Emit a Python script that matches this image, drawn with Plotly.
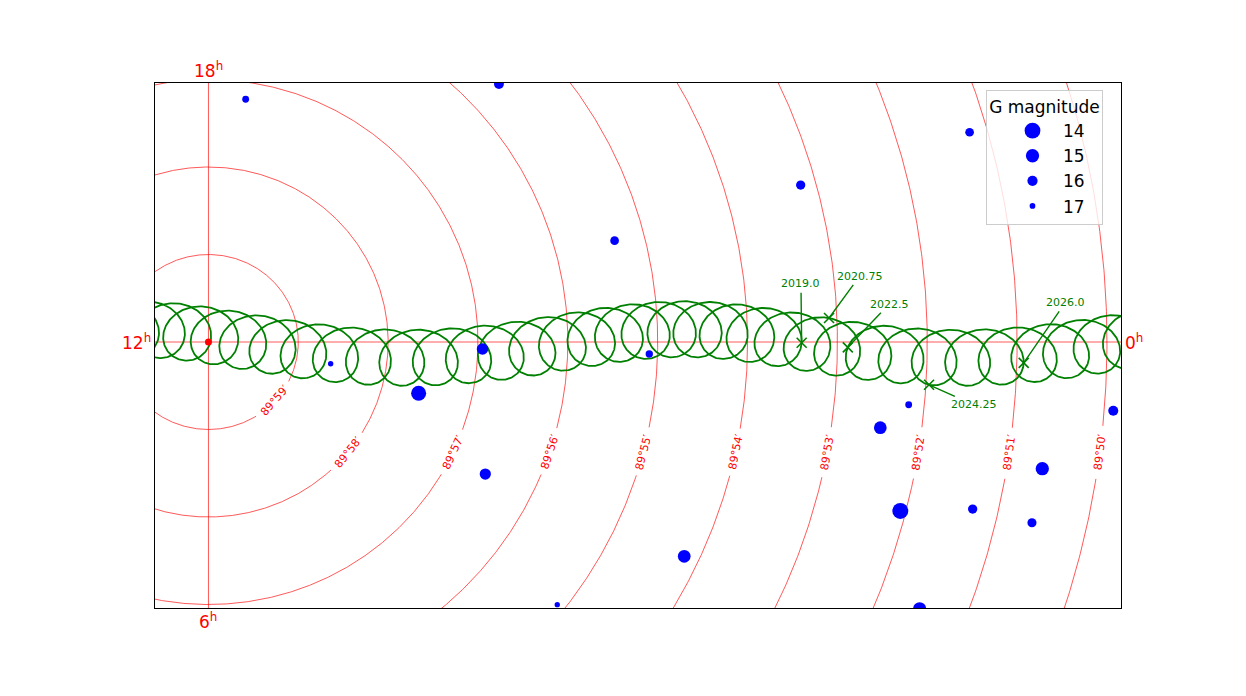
import numpy as np
import plotly.graph_objects as go

# ---------------- data (units: arcmin from the pole) ----------------
# yearly mean position of the star's track (centre of the annual loop), Jan 1 of each year
center_years = list(range(1996, 2033))
center_x = [-1.171, -0.883, -0.595, -0.303, -0.001, 0.311, 0.638, 0.980, 1.334, 1.699,
            2.071, 2.444, 2.815, 3.178, 3.530, 3.869, 4.193, 4.503, 4.802, 5.093,
            5.380, 5.669, 5.965, 6.270, 6.589, 6.921, 7.268, 7.627, 7.995, 8.368,
            8.741, 9.110, 9.469, 9.815, 10.148, 10.467, 10.772]
center_y = [0.137, 0.148, 0.141, 0.116, 0.076, 0.024, -0.031, -0.085, -0.131, -0.165,
            -0.181, -0.179, -0.159, -0.123, -0.075, -0.020, 0.035, 0.084, 0.122, 0.144,
            0.148, 0.133, 0.101, 0.056, 0.002, -0.053, -0.105, -0.146, -0.173, -0.183,
            -0.173, -0.146, -0.105, -0.053, 0.002, 0.056, 0.101]
# semi-axes of the annual loop (arcmin) and its phase on Jan 1 (radians)
loop_rx = 0.339
loop_ry = 0.320
loop_phase = 0.204

# labelled epochs on the track
epochs = [2019.0, 2020.75, 2022.5, 2024.25, 2026.0]
epoch_labels = ["2019.0", "2020.75", "2022.5", "2024.25", "2026.0"]
epoch_text_x = [6.594, 7.248, 7.577, 8.516, 9.536]
epoch_text_y = [0.665, 0.754, 0.434, -0.717, 0.451]

# field stars
star_x = [0.414, 3.233, 8.471, 6.591, 4.520, 1.360, 3.050, 4.906, 2.339, 3.081,
          5.295, 3.882, 7.793, 7.477, 10.070, 9.280, 7.700, 8.505, 9.165, 7.915]
star_y = [2.774, 2.949, 2.397, 1.794, 1.158, -0.248, -0.080, -0.137, -0.586, -1.509,
          -2.449, -3.002, -0.717, -0.979, -0.785, -1.448, -1.931, -1.909, -2.065, -3.048]
star_mag = [16.8, 16.1, 16.4, 16.25, 16.4, 17.05, 15.6, 16.7, 14.3, 15.7,
            15.2, 17.06, 16.8, 15.2, 16.06, 15.0, 13.9, 16.25, 16.3, 15.1]
legend_mags = [14, 15, 16, 17]

# declination circles (polar distance in arcmin) and their labels
dec_radii = [1, 2, 3, 4, 5, 6, 7, 8, 9, 10]
dec_labels = ["89°59′", "89°58′", "89°57′", "89°56′", "89°55′",
              "89°54′", "89°53′", "89°52′", "89°51′", "89°50′"]
hour_labels = ["0<sup>h</sup>", "6<sup>h</sup>", "12<sup>h</sup>", "18<sup>h</sup>"]

# ---------------- layout geometry (page body has an 8px margin) ----------------
W, H = 1230, 680
L, T = 147, 75
PW, PH = 966, 525
R, B = W - L - PW, H - T - PH
XR = [-0.595, 10.156]
YR = [-3.040, 2.960]
pxx = PW / (XR[1] - XR[0])
pxy = PH / (YR[1] - YR[0])

RED = "rgba(255,0,0,0.65)"
GREEN = "#008000"
FONT = "DejaVu Sans"


def mag_size(m):
    return np.sqrt(np.clip(72.0 * (17.45 - np.asarray(m, dtype=float)), 4, None))


def track(t):
    t = np.asarray(t, dtype=float)
    cx = np.interp(t, center_years, center_x)
    cy = np.interp(t, center_years, center_y)
    ph = 2 * np.pi * t + loop_phase
    return cx + loop_rx * np.cos(ph), cy - loop_ry * np.sin(ph)


fig = go.Figure()

# declination circles with gaps for labels
annotations = []
for r, lab in zip(dec_radii, dec_labels):
    if r == 1:
        lx, ly = 0.740, -0.673
    else:
        ly = -1.26
        lx = np.sqrt(r * r - ly * ly)
    phi_l = np.arctan2(ly, lx)
    phi = np.linspace(-np.pi, np.pi, 1441)
    xs = r * np.cos(phi)
    ys = r * np.sin(phi)
    half = 24.0 / (r * 0.5 * (pxx + pxy))
    d = np.abs(np.angle(np.exp(1j * (phi - phi_l))))
    xs = np.where(d < half, np.nan, xs)
    ys = np.where(d < half, np.nan, ys)
    fig.add_trace(go.Scatter(x=xs, y=ys, mode="lines", line=dict(color=RED, width=1),
                             hoverinfo="skip", showlegend=False))
    a = lx * pxx
    b = -ly * pxy
    ang = np.degrees(np.arctan2(-a, b))
    annotations.append(dict(x=lx, y=ly, xref="x", yref="y", text=lab, showarrow=False,
                            textangle=ang, font=dict(color="red", size=11, family=FONT)))

# annual-loop track
tt = np.arange(1996.0, 2032.0, 1 / 180)
tx, ty = track(tt)
fig.add_trace(go.Scatter(x=tx, y=ty, mode="lines", line=dict(color=GREEN, width=1.8),
                         hoverinfo="skip", showlegend=False))

# epoch markers
ex, ey = track(epochs)
fig.add_trace(go.Scatter(x=ex, y=ey, mode="markers",
                         marker=dict(symbol="x-thin", size=10, line=dict(color=GREEN, width=1.6)),
                         hoverinfo="skip", showlegend=False))
for x0, y0, lab, txx, tyy in zip(ex, ey, epoch_labels, epoch_text_x, epoch_text_y):
    annotations.append(dict(x=x0, y=y0, xref="x", yref="y", ax=txx, ay=tyy, axref="x", ayref="y",
                            text=lab, showarrow=True, arrowhead=0, arrowwidth=1.4,
                            arrowcolor=GREEN, standoff=0, startstandoff=1,
                            font=dict(color=GREEN, size=11, family=FONT)))

# stars
fig.add_trace(go.Scatter(x=star_x, y=star_y, mode="markers",
                         marker=dict(color="blue", size=mag_size(star_mag), opacity=1,
                                     line=dict(width=0)),
                         hoverinfo="skip", showlegend=False))
# pole
fig.add_trace(go.Scatter(x=[0], y=[0], mode="markers",
                         marker=dict(color="red", size=7, opacity=1, line=dict(width=0)),
                         hoverinfo="skip", showlegend=False))

# legend entries
for m in legend_mags:
    fig.add_trace(go.Scatter(x=[None], y=[None], mode="markers", name=str(m),
                             marker=dict(color="blue", size=float(mag_size([m])[0]), opacity=1,
                                         line=dict(width=0))))

# hour labels
hf = dict(color="red", size=17, family=FONT)
annotations += [
    dict(x=1, y=0, xref="paper", yref="y", text=hour_labels[0], showarrow=False,
         xanchor="left", yanchor="middle", xshift=2, font=hf),
    dict(x=0, y=0, xref="x", yref="paper", text=hour_labels[1], showarrow=False,
         xanchor="center", yanchor="top", yshift=0, font=hf),
    dict(x=0, y=0, xref="paper", yref="y", text=hour_labels[2], showarrow=False,
         xanchor="right", yanchor="middle", xshift=-2, font=hf),
    dict(x=0, y=1, xref="x", yref="paper", text=hour_labels[3], showarrow=False,
         xanchor="center", yanchor="bottom", yshift=0, font=hf),
]

shapes = [
    dict(type="line", xref="x", yref="y", x0=XR[0], x1=XR[1], y0=0, y1=0,
         line=dict(color=RED, width=1), layer="below"),
    dict(type="line", xref="x", yref="y", x0=0, x1=0, y0=YR[0], y1=YR[1],
         line=dict(color=RED, width=1), layer="below"),
]

ax_common = dict(showgrid=False, zeroline=False, showticklabels=False, ticks="",
                 showline=True, linecolor="black", linewidth=1, mirror=True, fixedrange=True)

fig.update_layout(
    width=W, height=H, autosize=False,
    margin=dict(l=L, r=R, t=T, b=B, pad=0),
    paper_bgcolor="white", plot_bgcolor="white",
    xaxis=dict(range=XR, **ax_common),
    yaxis=dict(range=YR, **ax_common),
    annotations=annotations,
    shapes=shapes,
    font=dict(family=FONT),
    legend=dict(x=(986 - 155) / PW, y=(608 - 90) / PH,
                xanchor="left", yanchor="top",
                bgcolor="rgba(255,255,255,0.8)", bordercolor="#cccccc", borderwidth=1,
                font=dict(size=17, family=FONT, color="black"),
                title=dict(text="G magnitude", side="top center",
                           font=dict(size=17, family=FONT, color="black")),
                itemsizing="trace", tracegroupgap=5, indentation=15, itemwidth=51),
)

fig.write_html("out.html")
